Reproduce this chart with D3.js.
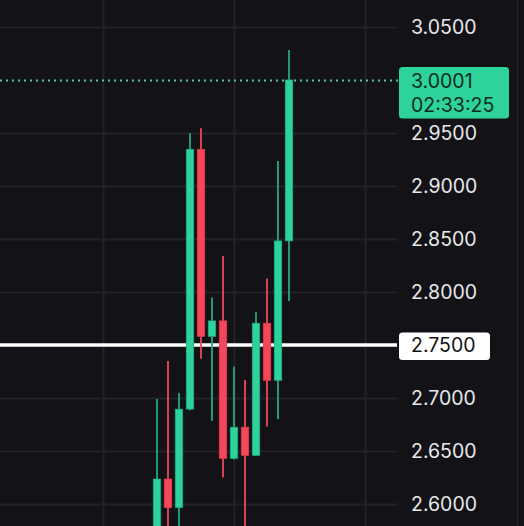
<!DOCTYPE html>
<html><head><meta charset="utf-8">
<script src="https://cdn.jsdelivr.net/npm/d3@7"></script>
<style>html,body{margin:0;padding:0;background:#131317;overflow:hidden}</style>
</head><body><svg id="c" width="524" height="526"></svg>
<script>
// candle index (time slot)
const idx   = [0,1,2,3,4,5,6,7,8,9,10,11,12];
const open  = [2.560,2.6236,2.5965,2.6895,2.9347,2.7580,2.7728,2.6429,2.6725,2.6457,2.7706,2.7165,2.8482];
const high  = [2.699,2.735,2.7048,2.9498,2.9545,2.7947,2.834,2.7297,2.717,2.781,2.8127,2.9236,3.0283];
const low   = [2.540,2.550,2.570,2.6885,2.737,2.6785,2.625,2.642,2.570,2.645,2.673,2.680,2.7916];
const close = [2.6236,2.5965,2.6895,2.9347,2.758,2.7728,2.6429,2.6725,2.6457,2.7706,2.7165,2.8482,3.0001];
const priceTicks = [2.60,2.65,2.70,2.75,2.80,2.85,2.90,2.95,3.00,3.05];
const timeGrid = [-4.909, 7, 18.909];
const lastPrice = 3.0001, countdown = "02:33:25";
const levelPrice = 2.75;

const svg = d3.select("#c");
const W=524,H=526, plotRight=397, axisRight=517;
const x = d3.scaleLinear().domain([0,12]).range([157,289]);
const y = d3.scaleLinear().domain([2.60,3.05]).range([504,27]);
const fmt = d3.format(".4f");
const GREEN="#2ed39b", RED="#f6465a", GREENW="#23a982", REDW="#f0475a";
const FONT="Inter, 'DejaVu Sans', sans-serif";

svg.append("rect").attr("width",W).attr("height",H).attr("fill","#131317");
// grid
svg.append("g").selectAll("line").data(priceTicks.filter(t=>t!==levelPrice && t!==3.00)).join("line")
  .attr("x1",0).attr("x2",plotRight).attr("y1",d=>Math.round(y(d))+0.5).attr("y2",d=>Math.round(y(d))+0.5)
  .attr("stroke","#222227").attr("stroke-width",2);
svg.append("g").selectAll("line").data(timeGrid).join("line")
  .attr("x1",d=>Math.round(x(d))+0.5).attr("x2",d=>Math.round(x(d))+0.5).attr("y1",0).attr("y2",H)
  .attr("stroke","#222227").attr("stroke-width",2);
svg.append("line").attr("x1",axisRight+0.5).attr("x2",axisRight+0.5).attr("y1",0).attr("y2",H)
  .attr("stroke","#26262c").attr("stroke-width",1);

// level line
svg.append("line").attr("x1",0).attr("x2",plotRight).attr("y1",y(levelPrice)).attr("y2",y(levelPrice))
  .attr("stroke","#ffffff").attr("stroke-width",3.6);

// last price dotted line
svg.append("line").attr("x1",0).attr("x2",plotRight+2).attr("y1",Math.round(y(lastPrice))+0.5).attr("y2",Math.round(y(lastPrice))+0.5)
  .attr("stroke","#4fc9a6").attr("stroke-width",2).attr("stroke-dasharray","2,4");

// candles
const bw=7.6;
const g=svg.append("g");
idx.forEach((i,k)=>{
  const up = close[k]>=open[k];
  g.append("line").attr("x1",x(i)).attr("x2",x(i)).attr("y1",y(high[k])).attr("y2",y(low[k]))
    .attr("stroke",up?GREENW:REDW).attr("stroke-width",1.8);
  const top=y(Math.max(open[k],close[k])), bot=y(Math.min(open[k],close[k]));
  g.append("rect").attr("x",x(i)-bw/2).attr("y",top).attr("width",bw).attr("height",Math.max(1,bot-top))
    .attr("fill",up?GREEN:RED).attr("stroke",up?"#1f9e78":"#d63a4d").attr("stroke-width",0.6);
});

// axis labels
svg.append("g").selectAll("text").data(priceTicks.filter(t=>t!==levelPrice && t!==3.00)).join("text")
  .attr("x",411).attr("y",d=>y(d)+7.3).text(d=>fmt(d))
  .attr("fill","#e8e8ea").attr("font-family",FONT).attr("font-size",19.5);

// level label
svg.append("rect").attr("x",399).attr("y",332.5).attr("width",91).attr("height",27.5).attr("rx",3.5).attr("fill","#ffffff");
svg.append("text").attr("x",411).attr("y",y(levelPrice)+7.3).text(fmt(levelPrice))
  .attr("fill","#111114").attr("font-family",FONT).attr("font-size",19.5);

// last price label
svg.append("rect").attr("x",399).attr("y",67).attr("width",110).attr("height",51.5).attr("rx",3.5).attr("fill",GREEN);
svg.append("text").attr("x",411).attr("y",88.3).text(fmt(lastPrice))
  .attr("fill","#0b2a20").attr("font-family",FONT).attr("font-size",19.5);
svg.append("text").attr("x",411).attr("y",111.7).text(countdown)
  .attr("fill","#0b2a20").attr("font-family",FONT).attr("font-size",19.5);
</script></body></html>
